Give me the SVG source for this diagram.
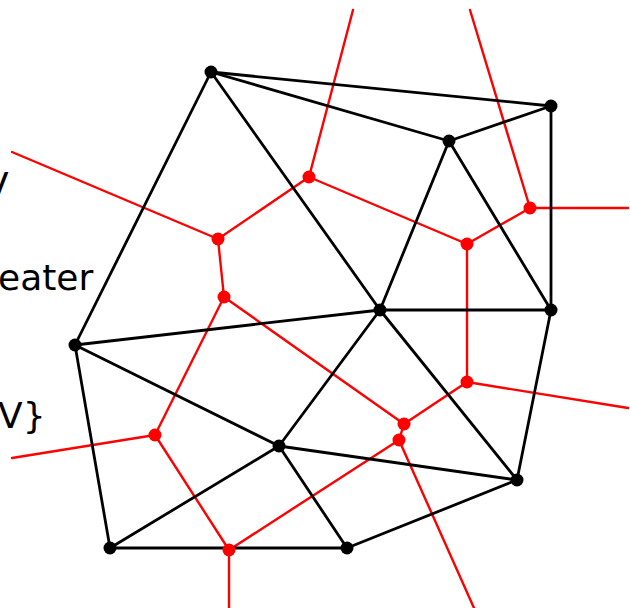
<svg xmlns="http://www.w3.org/2000/svg" width="630" height="608" viewBox="0 0 630 608">
<style>
.t{font-family:"DejaVu Sans",sans-serif;font-size:36px;fill:#000}
.k line{stroke:#000;stroke-width:2.8;stroke-linecap:round}
.r line{stroke:#f00;stroke-width:2.4;stroke-linecap:round}
.kn{fill:#000}
.rn{fill:#f00}
</style>
<rect width="630" height="608" fill="#fff"/>
<text class="t" x="-16" y="198">V</text>
<text class="t" x="-2" y="290">eater</text>
<text class="t" x="-2" y="428">V}</text>
<g id="voronoi-edges" class="r">
<line x1="309" y1="177" x2="353" y2="10"/>
<line x1="530" y1="208" x2="470" y2="10"/>
<line x1="530" y1="208" x2="628" y2="208"/>
<line x1="309" y1="177" x2="218" y2="239"/>
<line x1="309" y1="177" x2="467" y2="244"/>
<line x1="218" y1="239" x2="224" y2="297"/>
<line x1="218" y1="239" x2="12" y2="152"/>
<line x1="467" y1="244" x2="530" y2="208"/>
<line x1="467" y1="244" x2="467" y2="382"/>
<line x1="467" y1="382" x2="628" y2="408"/>
<line x1="467" y1="382" x2="404" y2="424"/>
<line x1="224" y1="297" x2="404" y2="424"/>
<line x1="224" y1="297" x2="155" y2="435"/>
<line x1="155" y1="435" x2="12" y2="458"/>
<line x1="155" y1="435" x2="229" y2="550"/>
<line x1="229" y1="550" x2="399" y2="440"/>
<line x1="399" y1="440" x2="404" y2="424"/>
<line x1="399" y1="440" x2="474" y2="608"/>
<line x1="229" y1="550" x2="229" y2="608"/>
</g>
<g id="delaunay-edges" class="k">
<line x1="211" y1="72" x2="551" y2="106"/>
<line x1="211" y1="72" x2="449" y2="141"/>
<line x1="449" y1="141" x2="551" y2="106"/>
<line x1="551" y1="106" x2="551" y2="310"/>
<line x1="211" y1="72" x2="75" y2="345"/>
<line x1="211" y1="72" x2="380" y2="310"/>
<line x1="449" y1="141" x2="380" y2="310"/>
<line x1="449" y1="141" x2="551" y2="310"/>
<line x1="380" y1="310" x2="551" y2="310"/>
<line x1="75" y1="345" x2="380" y2="310"/>
<line x1="75" y1="345" x2="279" y2="446"/>
<line x1="75" y1="345" x2="110" y2="548"/>
<line x1="380" y1="310" x2="279" y2="446"/>
<line x1="380" y1="310" x2="517" y2="480"/>
<line x1="551" y1="310" x2="517" y2="480"/>
<line x1="279" y1="446" x2="517" y2="480"/>
<line x1="279" y1="446" x2="110" y2="548"/>
<line x1="279" y1="446" x2="347" y2="548"/>
<line x1="110" y1="548" x2="347" y2="548"/>
<line x1="347" y1="548" x2="517" y2="480"/>
</g>
<g id="voronoi-vertices" class="rn">
<circle id="v1" cx="309" cy="177" r="6.5"/>
<circle id="v2" cx="530" cy="208" r="6.5"/>
<circle id="v3" cx="218" cy="239" r="6.5"/>
<circle id="v4" cx="467" cy="244" r="6.5"/>
<circle id="v5" cx="224" cy="297" r="6.5"/>
<circle id="v6" cx="467" cy="382" r="6.5"/>
<circle id="v7" cx="404" cy="424" r="6.5"/>
<circle id="v8" cx="399" cy="440" r="6.5"/>
<circle id="v9" cx="155" cy="435" r="6.5"/>
<circle id="v10" cx="229" cy="550" r="6.5"/>
</g>
<g id="sites" class="kn">
<circle id="pA" cx="211" cy="72" r="6.5"/>
<circle id="pB" cx="551" cy="106" r="6.5"/>
<circle id="pC" cx="449" cy="141" r="6.5"/>
<circle id="pD" cx="380" cy="310" r="6.5"/>
<circle id="pE" cx="551" cy="310" r="6.5"/>
<circle id="pF" cx="75" cy="345" r="6.5"/>
<circle id="pG" cx="279" cy="446" r="6.5"/>
<circle id="pH" cx="517" cy="480" r="6.5"/>
<circle id="pI" cx="110" cy="548" r="6.5"/>
<circle id="pJ" cx="347" cy="548" r="6.5"/>
</g>
</svg>
